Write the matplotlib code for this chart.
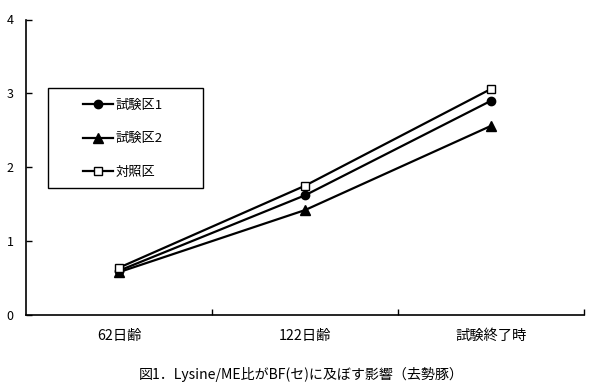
import matplotlib
matplotlib.use("Agg")
import matplotlib.pyplot as plt
from matplotlib.patches import Rectangle

plt.rcParams['font.family'] = ['Noto Sans CJK JP', 'DejaVu Sans']

categories = ["62日齢", "122日齢", "試験終了時"]
series_names = ["試験区1", "試験区2", "対照区"]
s1 = [0.60, 1.62, 2.90]
s2 = [0.58, 1.42, 2.56]
s3 = [0.64, 1.75, 3.06]
yticks = [0, 1, 2, 3, 4]
title = "図1．Lysine/ME比がBF(セ)に及ぼす影響（去勢豚）"

W, H = 603, 390
fig = plt.figure(figsize=(W / 100, H / 100), dpi=100)
ax = fig.add_axes([26 / W, 1 - 315 / H, (584 - 26) / W, (315 - 19.5) / H])

x = [0.5, 1.5, 2.5]
ax.plot(x, s1, color='black', lw=1.6, marker='o', ms=6, mfc='black', mec='black', label=series_names[0])
ax.plot(x, s2, color='black', lw=1.6, marker='^', ms=7, mfc='black', mec='black', label=series_names[1])
ax.plot(x, s3, color='black', lw=1.6, marker='s', ms=6, mfc='white', mec='black', mew=1, label=series_names[2])

ax.set_xlim(0, 3)
ax.set_ylim(0, 4)
ax.set_yticks(yticks)
ax.set_yticklabels([str(v) for v in yticks], fontsize=9)
ax.set_xticks([1, 2, 3])
ax.set_xticklabels([])
ax.set_xticks(x, minor=True)
ax.set_xticklabels(categories, minor=True, fontsize=10.3)
ax.tick_params(axis='x', which='minor', length=0, pad=10)
ax.tick_params(axis='x', which='major', direction='in', length=4, width=1)
ax.tick_params(axis='y', direction='in', length=4, width=1, pad=9)
for s in ['top', 'right']:
    ax.spines[s].set_visible(False)
for s in ['left', 'bottom']:
    ax.spines[s].set_linewidth(1.2)

# legend box frame
fig.patches.append(Rectangle((48 / W, 1 - 188 / H), (203 - 48) / W, (188 - 88) / H,
                             transform=fig.transFigure, fill=False, edgecolor='black', lw=1.0))
leg = ax.legend(loc='upper left', bbox_to_anchor=(83 / W, 1 - 99 / H), bbox_transform=fig.transFigure,
                frameon=False, fontsize=9.5,
                handlelength=2.3, labelspacing=1.55, borderpad=0, handletextpad=0.2,
                borderaxespad=0)

fig.text(301 / W, 1 - 375 / H, title, ha='center', va='center', fontsize=10.1)

fig.savefig("out.png", dpi=100, facecolor='white')
